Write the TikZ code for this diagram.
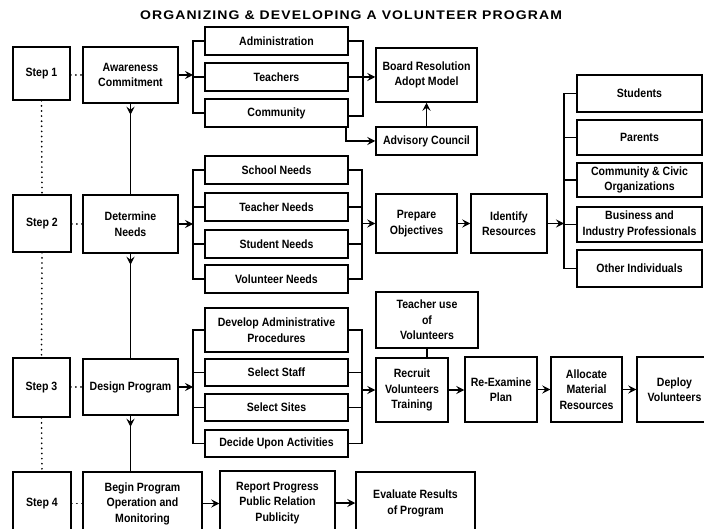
\documentclass[tikz,border=0pt]{standalone}
\usepackage{fontspec}
\usetikzlibrary{arrows.meta,decorations.markings}
\newfontfamily\bfont[FakeStretch=0.88]{Liberation Sans}
\newfontfamily\tfont[FakeStretch=1.12,LetterSpace=9]{Liberation Sans}
\newcommand\mybox[6]{\node[bx, minimum width={#4-#2}, minimum height={#5-#3}] (#1) at ({(#2+#4)/2},{(#3+#5)/2}) {#6};}
\tikzset{
  bx/.style={draw, line width=1.5pt, align=center, inner sep=1pt, font=\bfont\bfseries\fontsize{12}{15.5}\selectfont},
  arr/.style={line width=1.5pt, -{Stealth[length=8pt,width=8pt,inset=3pt]}},
  ln/.style={line width=1.5pt},
  dots/.style={line width=1.8pt, line cap=round, dash pattern=on 0.1pt off 5pt},
  downmark/.style={line width=1.5pt, postaction={decorate}, decoration={markings, mark=at position 11pt with {\arrow{Stealth[length=8pt,width=8pt,inset=3pt]}}}}
}
\begin{document}
\begin{tikzpicture}[x=1pt,y=-1pt]
\fill[white] (0,0) rectangle (704,529);
\useasboundingbox (0,0) rectangle (704,529);
\node[font=\tfont\bfseries\fontsize{12.5}{14}\selectfont] (title) at (351,15) {ORGANIZING \& DEVELOPING A VOLUNTEER PROGRAM};
% step 1
\mybox{s1}{13}{47}{70}{100}{Step 1}
\mybox{ac}{83}{47}{178}{103}{Awareness\\Commitment}
\mybox{adm}{205}{27}{348}{55}{Administration}
\mybox{tea}{205}{63}{348}{91}{Teachers}
\mybox{com}{205}{99}{348}{127}{Community}
\mybox{brd}{376}{48}{477}{102}{Board Resolution\\Adopt Model}
\mybox{adv}{376}{127}{477}{155}{Advisory Council}
% step 2
\mybox{s2}{13}{195}{71}{252}{Step 2}
\mybox{dn}{83}{195}{178}{253}{Determine\\Needs}
\mybox{sn}{205}{156}{348}{184}{School Needs}
\mybox{tn}{205}{193}{348}{221}{Teacher Needs}
\mybox{stn}{205}{230}{348}{258}{Student Needs}
\mybox{vn}{205}{265}{348}{293}{Volunteer Needs}
\mybox{po}{376}{194}{457}{253}{Prepare\\Objectives}
\mybox{ir}{471}{194}{547}{253}{Identify\\Resources}
\mybox{stu}{577}{75}{702}{112}{Students}
\mybox{par}{577}{120}{702}{155}{Parents}
\mybox{civ}{577}{163}{702}{197}{Community \& Civic\\Organizations}
\mybox{bus}{577}{207}{702}{242}{Business and\\Industry Professionals}
\mybox{oth}{577}{250}{702}{287}{Other Individuals}
% step 3
\mybox{s3}{13}{358}{70}{417}{Step 3}
\mybox{dp}{83}{359}{178}{415}{Design Program}
\mybox{dap}{205}{308}{348}{352}{Develop Administrative\\Procedures}
\mybox{ss}{205}{359}{348}{386}{Select Staff}
\mybox{sst}{205}{394}{348}{421}{Select Sites}
\mybox{dua}{205}{430}{348}{457}{Decide Upon Activities}
\mybox{tu}{376}{292}{478}{348}{Teacher use\\of\\Volunteers}
\mybox{rv}{376}{358}{448}{422}{Recruit\\Volunteers\\Training}
\mybox{rep}{465}{357}{537}{422}{Re-Examine\\Plan}
\mybox{amr}{551}{357}{622}{422}{Allocate\\Material\\Resources}
\mybox{dv}{637}{357}{712}{422}{Deploy\\Volunteers}
% step 4
\mybox{s4}{13}{472}{71}{535}{Step 4}
\mybox{bp}{83}{472}{202}{535}{Begin Program\\Operation and\\Monitoring}
\mybox{rpt}{220}{471}{335}{535}{Report Progress\\Public Relation\\Publicity}
\mybox{ev}{356}{472}{475}{535}{Evaluate Results\\of Program}
% bracket coordinates
\coordinate (L1) at (193,0);
\coordinate (R1) at (363,0);
\coordinate (R2) at (362,0);
\coordinate (L3) at (564,0);
% step column dotted
\draw[dots] (s1.south) -- (s2.north);
\draw[dots] (s2.south) -- (s3.north);
\draw[dots] (s3.south) -- (s4.north);
\draw[dots] (s1.east |- ac.west) -- (ac.west);
\draw[dots] (s2.east |- dn.west) -- (dn.west);
\draw[dots] (s3.east |- dp.west) -- (dp.west);
\draw[dots] (s4.east) -- (bp.west);
% main column
\draw[downmark] (ac.south) -- (dn.north);
\draw[downmark] (dn.south) -- (dp.north);
\draw[downmark] (dp.south) -- (dp.south |- bp.north);
% step 1 branches
\draw[arr] (ac.east) -- (ac.east -| L1);
\draw[ln] (adm.west) -- (adm.west -| L1) -- (com.west -| L1) -- (com.west);
\draw[ln] (tea.west) -- (tea.west -| L1);
\draw[ln] (adm.east) -- (adm.east -| R1) -- ([yshift=-3pt]com.east -| R1) -- ([yshift=-3pt]com.east);
\draw[arr] (tea.east) -- (tea.east -| brd.west);
\draw[arr] ([xshift=-3pt]com.south east) |- (adv.west);
\draw[arr] (adv.north) -- (brd.south);
% step 2 branches
\draw[arr] (dn.east) -- (dn.east -| L1);
\draw[ln] (sn.west) -- (sn.west -| L1) -- (vn.west -| L1) -- (vn.west);
\draw[ln] (tn.west) -- (tn.west -| L1);
\draw[ln] (stn.west) -- (stn.west -| L1);
\draw[ln] (sn.east) -- (sn.east -| R2) -- (vn.east -| R2) -- (vn.east);
\draw[ln] (tn.east) -- (tn.east -| R2);
\draw[ln] (stn.east) -- (stn.east -| R2);
\draw[arr] (po.west -| R2) -- (po.west);
\draw[arr] (po.east) -- (ir.west);
\draw[arr] (ir.east) -- (ir.east -| L3);
\draw[ln] (stu.west) -- (stu.west -| L3) -- (oth.west -| L3) -- (oth.west);
\draw[ln] (par.west) -- (par.west -| L3);
\draw[ln] (civ.west) -- (civ.west -| L3);
\draw[ln] (bus.west) -- (bus.west -| L3);
% step 3 branches
\draw[arr] (dp.east) -- (dp.east -| L1);
\draw[ln] (dap.west) -- (dap.west -| L1) -- (dua.west -| L1) -- (dua.west);
\draw[ln] (ss.west) -- (ss.west -| L1);
\draw[ln] (sst.west) -- (sst.west -| L1);
\draw[ln] (dap.east) -- (dap.east -| R2) -- (dua.east -| R2) -- (dua.east);
\draw[ln] (ss.east) -- (ss.east -| R2);
\draw[ln] (sst.east) -- (sst.east -| R2);
\draw[arr] (rv.west -| R2) -- (rv.west);
\draw[ln] (tu.south) -- (tu.south |- rv.north);
\draw[arr] (rv.east) -- (rv.east -| rep.west);
\draw[arr] (rep.east) -- (amr.west);
\draw[arr] (amr.east) -- (amr.east -| dv.west);
% step 4
\draw[arr] (bp.east) -- (bp.east -| rpt.west);
\draw[arr] (rpt.east) -- (rpt.east -| ev.west);
\end{tikzpicture}
\end{document}
